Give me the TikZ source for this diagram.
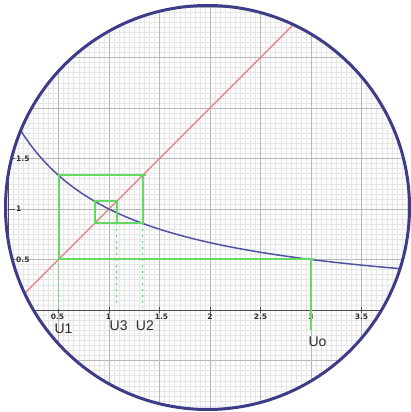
\documentclass[tikz,border=0pt]{standalone}
\usepackage{fontspec}
\setmainfont{DejaVu Sans}
\newfontfamily\ufont{Liberation Sans}
\definecolor{gridbg}{HTML}{FCFCFC}
\definecolor{minorc}{HTML}{E6E6E6}
\definecolor{majorc}{HTML}{B8B8B8}
\definecolor{greenc}{HTML}{66D866}
\definecolor{redc}{HTML}{DE7E7E}
\definecolor{bluec}{HTML}{5252A4}
\definecolor{borderc}{HTML}{3C3C88}
\definecolor{textc}{HTML}{2C2C2C}
\tikzset{
  minorline/.style={draw=minorc, line width=0.4pt},
  majorline/.style={draw=majorc, line width=0.8pt},
  axisline/.style={draw=textc!85, line width=0.9pt},
  cobweb/.style={draw=greenc, line width=2pt},
  dottedgreen/.style={draw=greenc, line width=1.3pt, dash pattern=on 1.3pt off 4.7pt},
  ticklabel/.style={text=textc, font=\fontsize{7.5}{8}\selectfont\bfseries, inner sep=0pt},
  ulabel/.style={text=textc, font=\ufont\fontsize{14}{16}\selectfont, inner sep=0pt},
  rim/.style={draw=borderc, line width=3pt}
}
\begin{document}
\begin{tikzpicture}[x=1pt,y=1pt]
\useasboundingbox (0,0) rectangle (411,412);
\fill[white] (0,0) rectangle (411,412);
\coordinate (C) at (207.5,204.5);
\begin{scope}
\clip (C) circle (202);
\fill[gridbg] (C) circle (202);
\begin{scope}[shift={(8,102)}, x=101pt, y=101pt]
  % minor grid
  \foreach \i in {-2,...,82} {
    \draw[minorline] ({\i*0.05},-1.1) -- ({\i*0.05},3.2);
  }
  \foreach \j in {-22,...,64} {
    \draw[minorline] (-0.2,{\j*0.05}) -- (4.2,{\j*0.05});
  }
  % major grid
  \foreach \i in {0,...,8} {
    \draw[majorline] ({\i*0.5},-1.1) -- ({\i*0.5},3.2);
  }
  \foreach \j in {-2,...,6} {
    \draw[majorline] (-0.2,{\j*0.5}) -- (4.2,{\j*0.5});
  }
  % axes
  \draw[axisline] (-0.2,0) -- (4.2,0);
  \draw[axisline] (0,-1.1) -- (0,3.2);
  \foreach \X in {0.5,1,1.5,2,2.5,3,3.5} {
    \draw[axisline] (\X,0) ++(0,-3pt) -- ++(0,6pt);
  }
  \foreach \Y in {0.5,1,1.5} {
    \draw[axisline] (0,\Y) -- ++(7pt,0);
  }
  % tick labels
  \node[ticklabel] (tx05) at ([xshift=-1pt,yshift=-6.5pt]0.5,0) {0.5};
  \node[ticklabel] (tx1)  at ([xshift=-0.5pt,yshift=-6.5pt]1,0) {1};
  \node[ticklabel] (tx15) at ([xshift=2pt,yshift=-6.5pt]1.5,0) {1.5};
  \node[ticklabel] (tx2)  at ([xshift=0pt,yshift=-6.5pt]2,0) {2};
  \node[ticklabel] (tx25) at ([xshift=0pt,yshift=-6.5pt]2.5,0) {2.5};
  \node[ticklabel] (tx3)  at ([xshift=0pt,yshift=-6.5pt]3,0) {3};
  \node[ticklabel] (tx35) at ([xshift=0pt,yshift=-6.5pt]3.5,0) {3.5};
  \node[ticklabel, anchor=west] (ty05) at ([xshift=8pt]0,0.5) {0.5};
  \node[ticklabel, anchor=west] (ty1)  at ([xshift=8pt]0,1) {1};
  \node[ticklabel, anchor=west] (ty15) at ([xshift=8pt]0,1.5) {1.5};
  % y = x
  \draw[draw=redc, line width=1.2pt] (-0.5,-0.5) -- (3.3,3.3);
  % curve 2/(1+x)
  \draw[draw=bluec, line width=1.5pt, domain=-0.2:4.2, samples=120, smooth]
    plot (\x,{2/(1+\x)});
  % cobweb
  \coordinate (u0b) at (3,-0.2);
  \coordinate (p0) at (3,0.5);
  \coordinate (p0e) at (3.03,0.5);
  \coordinate (p1) at (0.5,0.5);
  \coordinate (p2) at (0.5,4/3);
  \coordinate (p3e) at (1.37,4/3);
  \coordinate (p3) at (4/3,4/3);
  \coordinate (p4) at (4/3,6/7);
  \coordinate (p5) at (6/7,6/7);
  \coordinate (p6) at (6/7,14/13);
  \coordinate (p7) at (14/13,14/13);
  \coordinate (p8) at (14/13,6/7);
  \draw[cobweb] (u0b) -- (p0);
  \draw[cobweb] (p0e) -- (p1) -- (p2) -- (p3e);
  \draw[cobweb] (p3) -- (p4) -- (p5) -- (p6) -- (p7) -- (p8);
  % dotted drops
  \coordinate (a1) at (0.5,-0.02);
  \coordinate (a3) at (14/13,0.06);
  \coordinate (a2) at (4/3,0.02);
  \draw[dottedgreen] (p1) -- (a1);
  \draw[dottedgreen] (p8) -- (a3);
  \draw[dottedgreen] (p4) -- (a2);
  % sequence labels
  \node[ulabel] (U1) at (0.55,-0.19) {U1};
  \node[ulabel] (U3) at (1.095,-0.155) {U3};
  \node[ulabel] (U2) at (1.355,-0.155) {U2};
  \node[ulabel] (U0) at (3.064,-0.312) {Uo};
\end{scope}
\end{scope}
\draw[rim] (C) circle (202);
\end{tikzpicture}
\end{document}
